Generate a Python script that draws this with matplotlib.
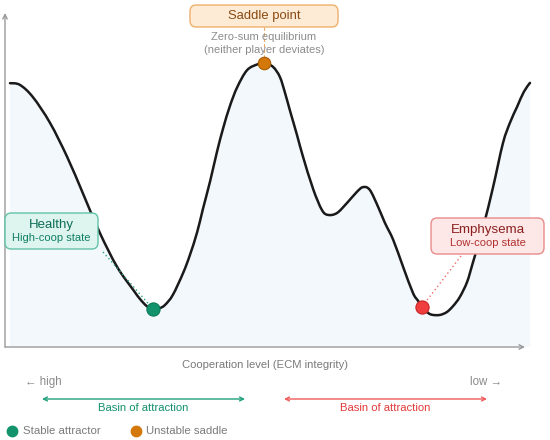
import matplotlib
matplotlib.use("Agg")
import matplotlib.pyplot as plt
from matplotlib.patches import FancyBboxPatch, PathPatch
from matplotlib.path import Path

plt.rcParams['font.family'] = ['Liberation Sans', 'DejaVu Sans']

# ---- data ----
coop = [0, 1.9, 4.4, 7.7, 11.0, 14.0, 17.3, 20.6, 23.7, 25.0, 26.3, 27.5, 28.8,
        29.8, 31.3, 33.3, 34.6, 36.0, 37.1, 38.5, 39.8, 41.0, 42.3, 43.7, 45.6, 47.7,
        49.0, 50.6, 51.9, 52.9, 53.8, 55.2, 56.3, 58.3, 60.0, 61.2, 62.9, 64.8, 66.7,
        67.9, 69.2, 70.8, 72.1, 73.7, 75.6, 77.5, 78.5, 79.2, 80.4, 81.3, 82.7, 84.0,
        85.2, 86.5, 87.9, 89.0, 91.0, 92.9, 94.8, 96.2, 97.5, 98.8, 100]
potential = [92.9, 92.3, 88.0, 78.9, 66.9, 54.2, 40.1, 28.2, 20.1, 16.9, 14.4, 13.4, 13.7,
             14.8, 18.3, 26.1, 32.4, 40.5, 48.6, 58.5, 68.7, 77.1, 84.9, 91.5, 97.5, 99.6,
             100.0, 98.6, 95.1, 89.4, 83.5, 74.6, 67.3, 55.6, 48.2, 46.5, 47.2, 50.7, 54.6,
             56.3, 55.3, 49.3, 43.7, 37.7, 28.2, 19.0, 16.2, 14.1, 12.0, 11.3, 11.3, 12.3,
             14.4, 17.6, 22.9, 29.6, 42.3, 56.3, 71.8, 79.2, 84.5, 89.8, 93.0]

healthy_pt = (27.5, 13.4)
emphysema_pt = (79.2, 14.1)
saddle_pt = (48.9, 100.0)

W, H = 550, 440
fig = plt.figure(figsize=(W / 100, H / 100), dpi=100)
ax = fig.add_axes([0, 0, 1, 1])
# data -> pixel mapping: x 0..100 -> px 10..530, U 0..100 -> py 347..63
ax.set_xlim(-10 / 5.2, (W - 10) / 5.2)
ax.set_ylim(-(H - 347) / 2.84, 347 / 2.84)
ax.axis('off')


def px2d(px, py):
    return ((px - 10) / 5.2, (347 - py) / 2.84)


def smooth_path_vertices(xs, ys):
    """Cubic Bezier (Catmull-Rom style) path through the read points."""
    pts = list(zip(xs, ys))
    n = len(pts)
    verts = [pts[0]]
    codes = [Path.MOVETO]
    for i in range(n - 1):
        p0 = pts[i - 1] if i > 0 else pts[i]
        p1 = pts[i]
        p2 = pts[i + 1]
        p3 = pts[i + 2] if i + 2 < n else pts[i + 1]
        c1 = (p1[0] + (p2[0] - p0[0]) / 6, p1[1] + (p2[1] - p0[1]) / 6)
        c2 = (p2[0] - (p3[0] - p1[0]) / 6, p2[1] - (p3[1] - p1[1]) / 6)
        verts += [c1, c2, p2]
        codes += [Path.CURVE4] * 3
    return verts, codes


verts, codes = smooth_path_vertices(coop, potential)
# filled landscape
fill_verts = verts + [(coop[-1], 0), (coop[0], 0), verts[0]]
fill_codes = codes + [Path.LINETO, Path.LINETO, Path.CLOSEPOLY]
ax.add_patch(PathPatch(Path(fill_verts, fill_codes), fc='#f3f8fd', ec='none', zorder=1))
ax.add_patch(PathPatch(Path(verts, codes), fc='none', ec='#1a1a1a', lw=1.8, zorder=3,
                       capstyle='round', joinstyle='round'))

# axes arrows
axis_col = '#9a9a9a'
o = px2d(5, 347)
ax.annotate('', xy=px2d(5, 13), xytext=o,
            arrowprops=dict(arrowstyle='->', color=axis_col, lw=1.0, mutation_scale=8,
                            shrinkA=0, shrinkB=0), zorder=2)
ax.annotate('', xy=px2d(525, 347), xytext=o,
            arrowprops=dict(arrowstyle='->', color=axis_col, lw=1.0, mutation_scale=8,
                            shrinkA=0, shrinkB=0), zorder=2)


def fbox(x0, y0, x1, y1, fc, ec):
    a = px2d(x0, y1)
    b = px2d(x1, y0)
    p = FancyBboxPatch(a, b[0] - a[0], b[1] - a[1],
                       boxstyle='round,pad=0,rounding_size=1.2',
                       fc=fc, ec=ec, lw=1.0, zorder=6, mutation_aspect=5.2 / 2.84)
    ax.add_patch(p)


def t(px, py, s, **kw):
    x, y = px2d(px, py)
    ax.text(x, y, s, ha=kw.pop('ha', 'center'), va='center', zorder=7, **kw)


# saddle annotation
ax.plot([px2d(264, 27)[0]] * 2, [px2d(264, 27)[1], saddle_pt[1]], color='#eba565',
        lw=0.8, ls=(0, (3, 2)), zorder=2)
fbox(190, 5, 338, 27, '#fdebd6', '#efb06c')
t(264, 16.5, 'Saddle point', fontsize=9.4, color='#8a4a12')
t(264, 37, 'Zero-sum equilibrium', fontsize=8, color='#8c8c8c')
t(264, 50, '(neither player deviates)', fontsize=8, color='#8c8c8c')

# healthy annotation
a = px2d(103, 252)
ax.plot([a[0], healthy_pt[0]], [a[1], healthy_pt[1]], color='#2aa383', lw=1.0,
        ls=(0, (1, 2)), zorder=4)
fbox(5, 213, 98, 249, '#def4ee', '#63c2a8')
t(51.5, 224.5, 'Healthy', fontsize=9.5, color='#0d6e55')
t(51.5, 238, 'High-coop state', fontsize=8, color='#0f8064')

# emphysema annotation
a = px2d(461, 256)
ax.plot([a[0], emphysema_pt[0]], [a[1], emphysema_pt[1]], color='#f06a6a', lw=1.0,
        ls=(0, (1, 2)), zorder=4)
fbox(431, 218, 544, 254, '#fde7e7', '#e88c8c')
t(488, 229.5, 'Emphysema', fontsize=9.6, color='#8b1f1f')
t(488, 243, 'Low-coop state', fontsize=8, color='#b03030')

# equilibrium points
ax.plot(*healthy_pt, 'o', ms=9.5, mfc='#12936b', mec='#0b7a58', mew=0.8, zorder=8)
ax.plot(*emphysema_pt, 'o', ms=9.5, mfc='#f03e3e', mec='#c82525', mew=0.8, zorder=8)
ax.plot(*saddle_pt, 'o', ms=9, mfc='#d4780a', mec='#a85c00', mew=0.8, zorder=8)

# axis labels
t(265, 365, 'Cooperation level (ECM integrity)', fontsize=8.1, color='#7a7a7a')
t(25, 382, '← high', fontsize=8.3, color='#8a8a8a', ha='left')
t(502, 382, 'low →', fontsize=8.3, color='#8a8a8a', ha='right')

# basins
for x0, x1, col, tc in [(42, 245, '#1fa07a', '#13906b'), (284, 487, '#f05a5a', '#e23a3a')]:
    ax.annotate('', xy=px2d(x1, 399), xytext=px2d(x0, 399),
                arrowprops=dict(arrowstyle='<->', color=col, lw=1.0, mutation_scale=7,
                                shrinkA=0, shrinkB=0))
    t((x0 + x1) / 2, 407.5, 'Basin of attraction', fontsize=8.1, color=tc)

# legend
ax.plot(*px2d(12, 430.5), 'o', ms=7.5, color='#12936b', clip_on=False)
t(23, 430.5, 'Stable attractor', fontsize=8.2, color='#7a7a7a', ha='left')
ax.plot(*px2d(136, 430.5), 'o', ms=7.5, color='#d4780a', clip_on=False)
t(146, 430.5, 'Unstable saddle', fontsize=8.2, color='#7a7a7a', ha='left')

fig.savefig('out.png', dpi=100)
